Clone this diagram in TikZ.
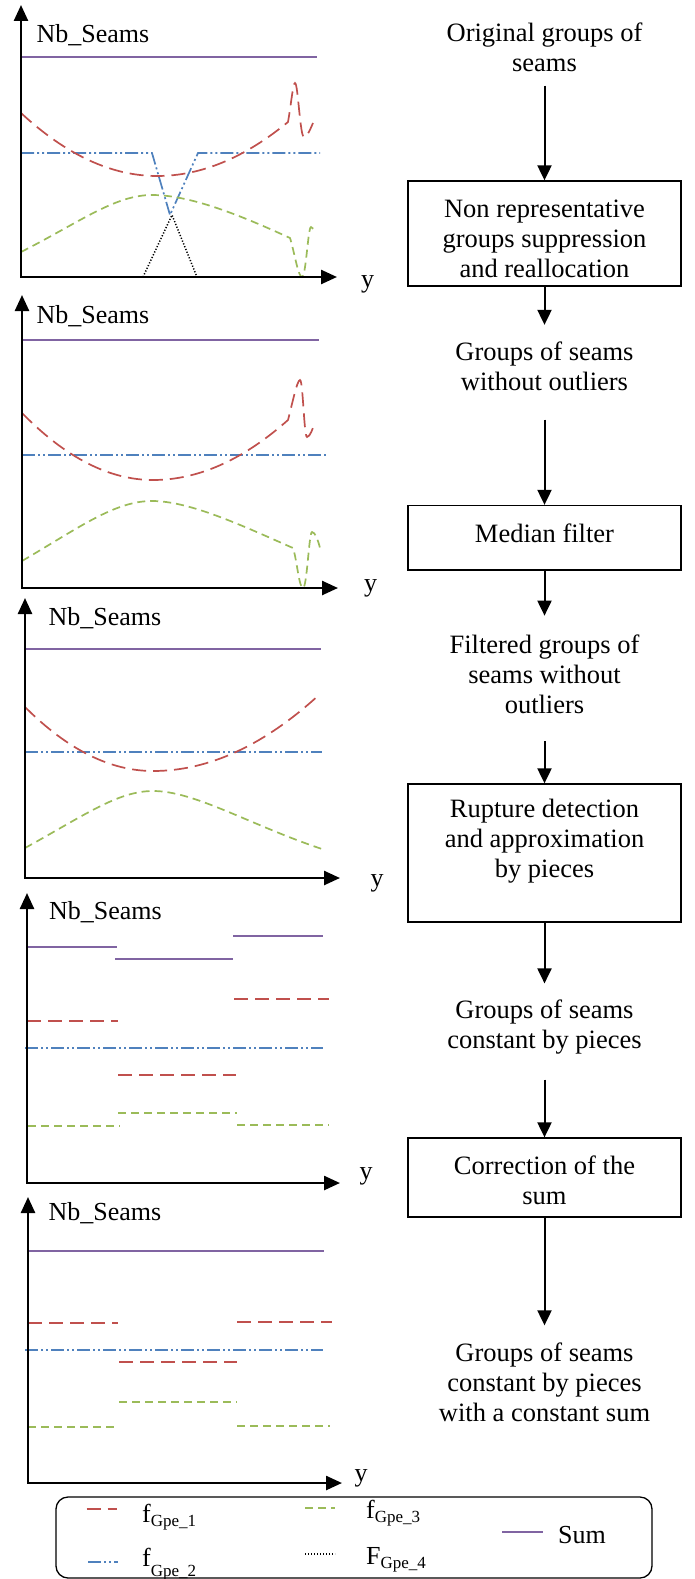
\documentclass[tikz,border=0pt]{standalone}
\usepackage{fontspec}
\setmainfont{Liberation Serif}
\usetikzlibrary{arrows.meta}
\definecolor{cred}{HTML}{C0504D}
\definecolor{cblue}{HTML}{4F81BD}
\definecolor{cgreen}{HTML}{9BBB59}
\definecolor{cpurple}{HTML}{8064A2}
\newcommand{\gsub}[2]{\raisebox{#1}{\fontsize{17}{17}\selectfont #2}}
\begin{document}
\begin{tikzpicture}[x=1pt,y=-1pt,
  axis/.style={line width=2.5pt, {Triangle[width=14pt,length=16pt]}-{Triangle[width=14pt,length=16pt]}},
  gred/.style={cred, line width=1.7pt, dash pattern=on 14pt off 7pt},
  gblue/.style={cblue, line width=1.7pt, dash pattern=on 13pt off 3pt on 2pt off 3pt on 2pt off 3pt},
  ggreen/.style={cgreen, line width=1.7pt, dash pattern=on 8pt off 5pt},
  gsum/.style={cpurple, line width=1.7pt},
  gblack/.style={black, line width=1.5pt, dash pattern=on 1.2pt off 1.8pt},
  lab/.style={font=\fontsize{26}{30}\selectfont, inner sep=0pt},
  txt/.style={font=\fontsize{26.5}{30}\selectfont, align=center, inner sep=0pt},
  stepbox/.style={draw, line width=1.3pt, minimum width=273pt, inner sep=0pt},
  flow/.style={line width=2pt, -{Triangle[width=14pt,length=15pt]}},
  leg/.style={font=\fontsize{26}{30}\selectfont, inner sep=0pt, anchor=base west},
]
\useasboundingbox (0,0) rectangle (695,1579);

% ---------------- Chart 1 ----------------
\draw[gsum] (21,57) -- (317,57);
\draw[gblue] (21,153) -- (152,153) -- (170,215) -- (198,153) -- (320,153);
\draw[gred] (21,113) .. controls (66.3,155) and (111.7,176) .. (157,176)
  .. controls (200.7,176) and (244.3,158) .. (288,122)
  .. controls (291,105) and (293,83) .. (295,83)
  .. controls (298,83) and (300,137) .. (304,137)
  .. controls (307,137) and (310,130) .. (313,123);
\draw[ggreen] (21,252) .. controls (80,222) and (115,195) .. (152,195)
  .. controls (190,195) and (240,215) .. (290,238)
  .. controls (294,250) and (298,277) .. (302,277)
  .. controls (306,277) and (308,227) .. (311,227)
  .. controls (313,227) and (314,230) .. (315,233);
\draw[gblack] (143,277) -- (172,215) -- (197,277);
\draw[axis] (21,5) |- (337,277);
\node[lab] (nb1) at (93,35) {Nb\_Seams};
\node[lab] (y1) at (367.5,284.5) {y};

% ---------------- Chart 2 ----------------
\draw[gsum] (22,340) -- (319,340);
\draw[gblue] (22,455) -- (328,455);
\draw[gred] (22,413) .. controls (65.7,457.7) and (109.3,480) .. (153,480)
  .. controls (198,480) and (243,460) .. (288,420)
  .. controls (292,405) and (297,380) .. (300,380)
  .. controls (303,380) and (304,437) .. (307,437)
  .. controls (310,437) and (313,428) .. (315,422);
\draw[ggreen] (22,561) .. controls (80,527) and (115,501) .. (152,501)
  .. controls (190,501) and (243,526) .. (293,548)
  .. controls (297,560) and (299,588) .. (303,588)
  .. controls (307,588) and (309,532) .. (312,532)
  .. controls (315,532) and (318,540) .. (320,548);
\draw[axis] (22,295) |- (338,588);
\node[lab] (nb2) at (93,316) {Nb\_Seams};
\node[lab] (y2) at (370.5,588.5) {y};

% ---------------- Chart 3 ----------------
\draw[gsum] (25,649) -- (321,649);
\draw[gblue] (25,752) -- (322,752);
\draw[gred] (25,707) .. controls (67.7,749.7) and (110.3,771) .. (153,771)
  .. controls (208.7,771) and (264.3,745.3) .. (320,694);
\draw[ggreen] (25,848) .. controls (85,815) and (118,791) .. (153,791)
  .. controls (195,791) and (250,825) .. (322,849);
\draw[axis] (25,598) |- (340,878);
\node[lab] (nb3) at (105,618) {Nb\_Seams};
\node[lab] (y3) at (377,883) {y};

% ---------------- Chart 4 ----------------
\draw[gsum] (27,947) -- (117,947);
\draw[gsum] (115,959) -- (233,959);
\draw[gsum] (233,936) -- (323,936);
\draw[gred] (27,1021) -- (118,1021);
\draw[gred] (118,1075) -- (236,1075);
\draw[gred] (234,999) -- (329,999);
\draw[gblue] (25,1048) -- (323,1048);
\draw[ggreen] (28,1126) -- (120,1126);
\draw[ggreen] (118,1113) -- (237,1113);
\draw[ggreen] (237,1125) -- (329,1125);
\draw[axis] (27,893) |- (340,1183);
\node[lab] (nb4) at (105.5,912) {Nb\_Seams};
\node[lab] (y4) at (366,1176) {y};

% ---------------- Chart 5 ----------------
\draw[gsum] (28,1251) -- (324,1251);
\draw[gred] (28,1323) -- (118,1323);
\draw[gred] (119,1362) -- (237,1362);
\draw[gred] (237,1322) -- (332,1322);
\draw[gblue] (25,1350) -- (323,1350);
\draw[ggreen] (28,1427) -- (118,1427);
\draw[ggreen] (119,1402) -- (237,1402);
\draw[ggreen] (237,1426) -- (330,1426);
\draw[axis] (28,1197) |- (342,1483);
\node[lab] (nb5) at (105,1213) {Nb\_Seams};
\node[lab] (y5) at (361,1478) {y};

% ---------------- Flow chart ----------------
\node[txt] (t1) at (544.5,47.5) {Original groups of\\seams};
\node[stepbox, minimum height=105pt] (b1) at (544.5,233.5) {};
\node[txt] (bt1) at (544.5,238.5) {Non representative\\groups suppression\\and reallocation};
\node[txt] (t2) at (544.5,366) {Groups of seams\\without outliers};
\node[stepbox, minimum height=64.5pt] (b2) at (544.5,537.75) {};
\node[txt] (bt2) at (544.5,533) {Median filter};
\node[txt] (t3) at (544.5,673.8) {Filtered groups of\\seams without\\outliers};
\node[stepbox, minimum height=138pt] (b3) at (544.5,853) {};
\node[txt] (bt3) at (544.5,841.3) {Rupture detection\\and approximation\\by pieces};
\node[txt] (t4) at (544.5,1026.8) {Groups of seams\\constant by pieces};
\node[stepbox, minimum height=79pt] (b4) at (544.5,1177.5) {};
\node[txt] (bt4) at (544.5,1180.5) {Correction of the\\sum};
\node[txt] (t5) at (544.5,1382.5) {Groups of seams\\constant by pieces\\with a constant sum};

\draw[flow, shorten <=13.4pt] (t1) -- (b1);
\draw[flow, shorten >=16.5pt] (b1) -- (t2);
\draw[flow, shorten <=29pt] (t2) -- (b2);
\draw[flow, shorten >=18.5pt] (b2) -- (t3);
\draw[flow, shorten <=28pt] (t3) -- (b3);
\draw[flow, shorten >=16pt] (b3) -- (t4);
\draw[flow, shorten <=25.5pt] (t4) -- (b4);
\draw[flow, shorten >=17.5pt] (b4) -- (t5);

% ---------------- Legend ----------------
\node[draw, line width=1.3pt, rounded corners=12pt, minimum width=596pt, minimum height=81pt, inner sep=0pt] (legend) at (354,1537.5) {};
\draw[gred] (86.7,1509) -- (116.7,1509);
\draw[ggreen] (305,1508) -- (335,1508);
\draw[gblue] (88,1561.7) -- (118,1561.7);
\draw[gblack] (305,1554) -- (335,1554);
\draw[gsum] (502,1532) -- (543,1532);
\node[leg] (l1) at (142,1522.7) {f\gsub{-3.5pt}{Gpe\_1}};
\node[leg] (l3) at (366,1518.3) {f\gsub{-4.5pt}{Gpe\_3}};
\node[leg] (l2) at (142,1566) {f\gsub{-10pt}{Gpe\_2}};
\node[leg] (l4) at (366,1564) {F\gsub{-4pt}{Gpe\_4}};
\node[leg] (lsum) at (558,1543) {Sum};
\end{tikzpicture}
\end{document}
